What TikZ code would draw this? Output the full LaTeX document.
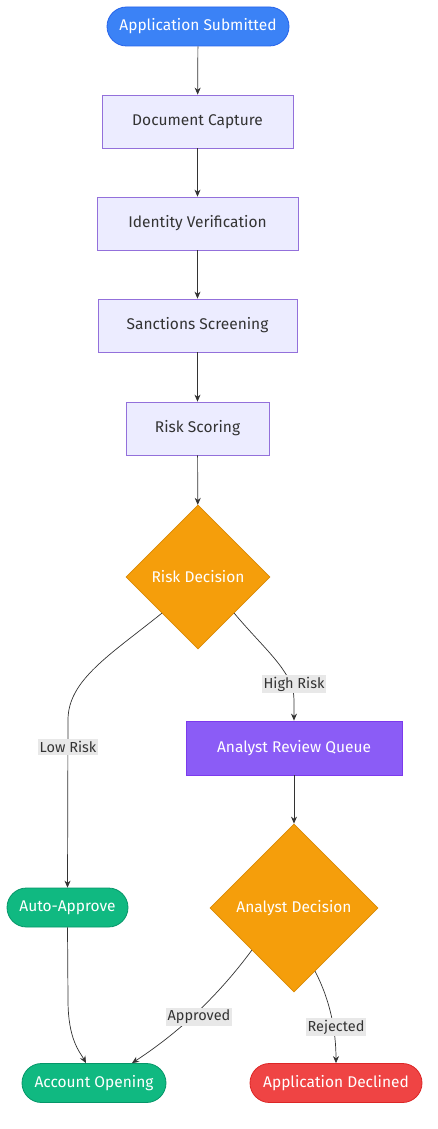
\documentclass[tikz,border=0pt]{standalone}
\usepackage{fontspec}
\setmainfont{Fira Sans}
\usetikzlibrary{shapes.geometric,shapes.misc,arrows.meta,calc}
\definecolor{txt}{HTML}{333333}
\definecolor{procfill}{HTML}{ECECFF}
\definecolor{procdraw}{HTML}{9370DB}
\definecolor{bluef}{HTML}{3B82F6}
\definecolor{blued}{HTML}{2563EB}
\definecolor{greenf}{HTML}{10B981}
\definecolor{greend}{HTML}{059669}
\definecolor{redf}{HTML}{EF4444}
\definecolor{redd}{HTML}{DC2626}
\definecolor{orangef}{HTML}{F59E0B}
\definecolor{oranged}{HTML}{D98A06}
\definecolor{purplef}{HTML}{8B5CF6}
\definecolor{purpled}{HTML}{7C3AED}
\definecolor{lblbg}{HTML}{E8E8E8}
\definecolor{linec}{HTML}{333333}
\tikzset{
  base/.style={font=\fontsize{15.5}{18}\selectfont, inner sep=0pt, line width=0.8pt},
  proc/.style={base, rectangle, fill=procfill, draw=procdraw, text=txt, minimum height=53pt},
  term/.style={base, rounded rectangle, text=white, minimum height=39pt},
  dec/.style={base, diamond, aspect=1, fill=orangef, draw=oranged, text=white},
  lbl/.style={font=\fontsize{14.5}{17}\selectfont, fill=lblbg, text=txt, inner sep=2pt},
  arr/.style={draw=linec, line width=0.7pt, -{Stealth[length=7pt,width=6pt]}}
}
\begin{document}
\begin{tikzpicture}[x=1pt,y=-1pt]
\useasboundingbox (0,0) rectangle (437,1129);
\node[term, fill=bluef, draw=blued, minimum width=182pt] (as) at (198,26.5) {Application Submitted};
\node[proc, minimum width=191pt] (dc) at (197.5,121.5) {Document Capture};
\node[proc, minimum width=201pt] (iv) at (197.5,223.5) {Identity Verification};
\node[proc, minimum width=199pt] (ss) at (197.5,325.5) {Sanctions Screening};
\node[proc, minimum width=143pt] (rs) at (197.5,428.5) {Risk Scoring};
\node[dec, minimum width=144pt, minimum height=144pt] (rd) at (198,577) {Risk Decision};
\node[base, rectangle, fill=purplef, draw=purpled, text=white, minimum width=216pt, minimum height=54pt] (arq) at (294,748) {Analyst Review Queue};
\node[dec, minimum width=168pt, minimum height=168pt] (ad) at (294,908) {Analyst Decision};
\node[term, fill=greenf, draw=greend, minimum width=121pt] (aa) at (67.5,907.5) {Auto-Approve};
\node[term, fill=greenf, draw=greend, minimum width=144pt] (ao) at (94,1083) {Account Opening};
\node[term, fill=redf, draw=redd, minimum width=172pt] (dec) at (336,1083) {Application Declined};

\draw[arr] (as) -- (dc);
\draw[arr] (dc) -- (iv);
\draw[arr] (iv) -- (ss);
\draw[arr] (ss) -- (rs);
\draw[arr] (rs) -- (rd);
\draw[arr] (rd.south west) .. controls (110,655) and (68,680) .. (68,720) -- (aa.north);
\draw[arr] (rd.south east) .. controls (265,650) and (294,672) .. (294,700) -- (arq.north);
\draw[arr] (arq) -- (ad);
\draw[arr] (aa.south) -- (68,1000) .. controls (68,1040) and (80,1052) .. ($(ao.north)+(-8,0)$);
\draw[arr] (ad.south west) .. controls (215,1000) and (175,1035) .. ($(ao.north)+(38,0)$);
\draw[arr] ($(ad.south)!0.5!(ad.south east)$) .. controls (330,1000) and (336,1030) .. (dec.north);

\node[lbl] (l1) at (68,747) {Low Risk};
\node[lbl] (l2) at (294,684) {High Risk};
\node[lbl] (l3) at (199,1017) {Approved};
\node[lbl] (l4) at (336,1027) {Rejected};
\end{tikzpicture}
\end{document}
